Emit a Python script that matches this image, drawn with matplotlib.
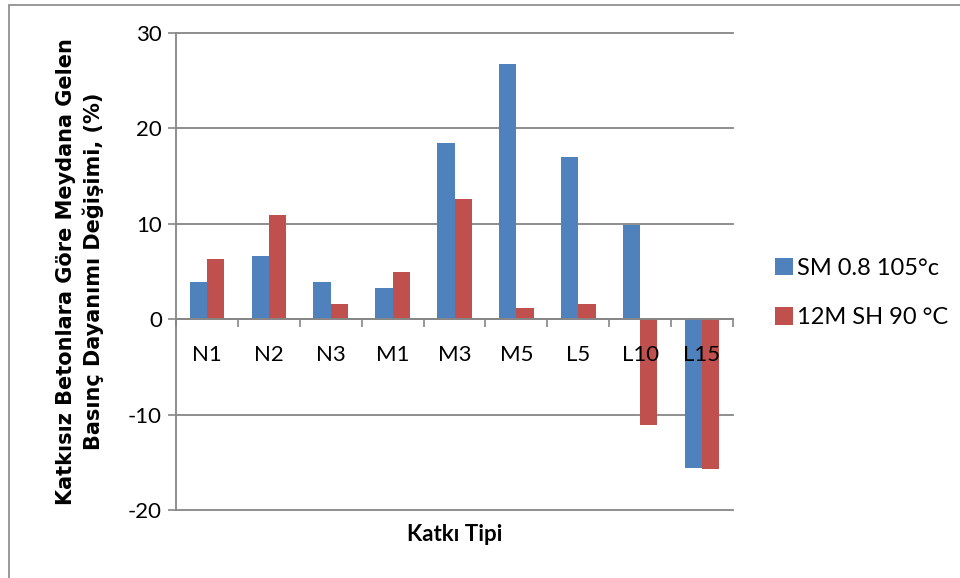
import numpy as np
import matplotlib.pyplot as plt
from matplotlib.patches import Rectangle

# veriler
kategoriler = ['N1', 'N2', 'N3', 'M1', 'M3', 'M5', 'L5', 'L10', 'L15']
sm_105 = [3.95, 6.65, 3.9, 3.3, 18.45, 26.7, 17.0, 9.85, -15.6]
sh_90 = [6.3, 10.97, 1.6, 5.0, 12.6, 1.2, 1.6, -11.07, -15.7]
etiketler = ['SM 0.8 105°c', '12M SH 90 °C']
yticks = [-20, -10, 0, 10, 20, 30]

mavi = '#4F81BD'
kirmizi = '#C0504D'
gri = '#868686'

fig = plt.figure(figsize=(9.6, 5.78), dpi=100)
ax = fig.add_axes([176/960, 1-510/578, (733-176)/960, (510-33)/578])

x = np.arange(len(kategoriler))
w = 0.28
ax.bar(x - w/2, sm_105, w, color=mavi, label=etiketler[0], zorder=3)
ax.bar(x + w/2, sh_90, w, color=kirmizi, label=etiketler[1], zorder=3)

ax.set_xlim(-0.5, len(kategoriler) - 0.5)
ax.set_ylim(-20, 30)
ax.set_yticks(yticks)
ax.set_yticklabels([str(v) for v in yticks], fontsize=16, family='Lato')

# kategori sinirlarinda tik
ax.set_xticks(np.arange(len(kategoriler) + 1) - 0.5)
ax.set_xticklabels([])
ax.tick_params(axis='x', which='major', length=6, width=1.2, color=gri, direction='out')
ax.tick_params(axis='y', length=6, width=1.2, color=gri, pad=4)

# kategori etiketleri cubuklarin ustunde
for xi, k in zip(x, kategoriler):
    ax.text(xi, -3.8, k, ha='center', va='center', fontsize=16, family='Lato',
            zorder=6, clip_on=False)

ax.spines['top'].set_visible(False)
ax.spines['right'].set_visible(False)
ax.spines['left'].set_color(gri)
ax.spines['left'].set_linewidth(1.3)
ax.spines['bottom'].set_position(('data', 0))
ax.spines['bottom'].set_color(gri)
ax.spines['bottom'].set_linewidth(1.3)
ax.spines['bottom'].set_zorder(4)

ax.yaxis.grid(True, color=gri, linewidth=1.3)
for gl in ax.get_ygridlines():
    gl.set_clip_on(False)
ax.set_axisbelow(True)

ax.set_ylabel('Katkısız Betonlara Göre Meydana Gelen\nBasınç Dayanımı Değişimi, (%)',
              fontsize=15, fontweight='bold', linespacing=1.35)
ax.yaxis.set_label_coords(-0.13, 0.5)
ax.set_xlabel('Katkı Tipi', fontsize=16, fontweight='bold', family='Lato', labelpad=0)
ax.xaxis.set_label_coords(0.5, -0.03)

fig.legend(loc='upper left', bbox_to_anchor=(775/960, 1-258/578), frameon=False,
           prop={'family': 'Lato', 'size': 17}, handlelength=0.75, handleheight=0.75,
           handletextpad=0.2, labelspacing=1.2, borderaxespad=0, borderpad=0)

# dis cerceve
fig.patches.append(Rectangle((9/960, -0.1), 1.2, 1 - 5/578 + 0.1, transform=fig.transFigure,
                             fill=False, edgecolor=gri, linewidth=1.2))

fig.savefig('out.png', dpi=100)
